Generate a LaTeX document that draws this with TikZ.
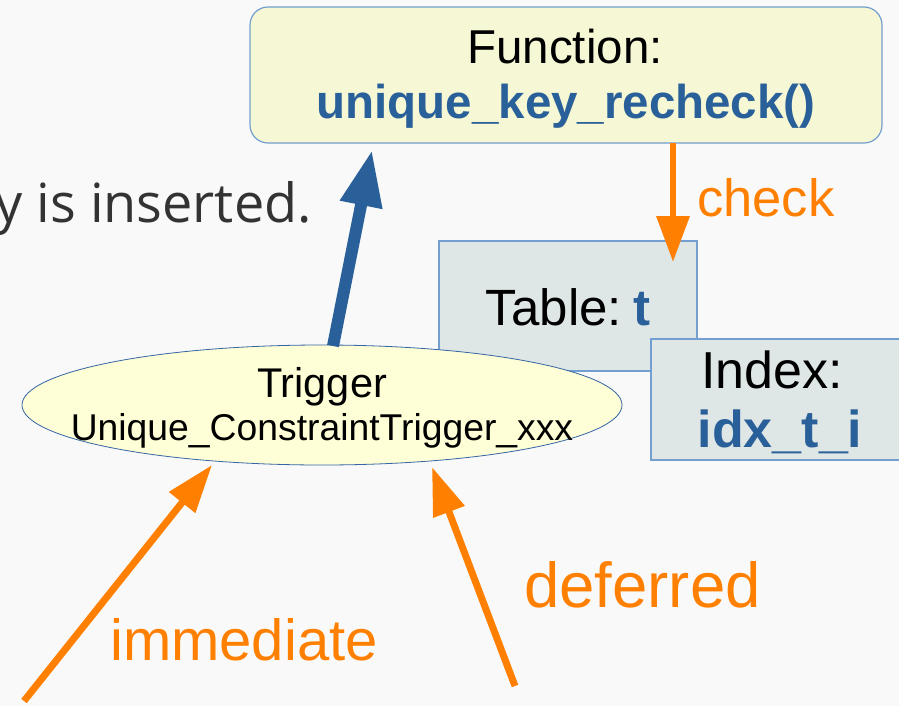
\documentclass[tikz,border=0pt]{standalone}
\usepackage{fontspec}
\setmainfont{Liberation Sans}
\newfontfamily\bodyfont{Open Sans}
\usetikzlibrary{arrows.meta,shapes.geometric,calc}

\definecolor{bgcol}{RGB}{249,249,249}
\definecolor{fnfill}{RGB}{246,247,212}
\definecolor{trigfill}{RGB}{255,255,215}
\definecolor{tblfill}{RGB}{222,230,230}
\definecolor{edgeblue}{RGB}{114,159,207}
\definecolor{rimblue}{RGB}{52,101,164}
\definecolor{deepblue}{RGB}{42,96,153}
\definecolor{orangeA}{RGB}{255,128,0}
\definecolor{bodygray}{RGB}{51,51,51}

\newcommand\setfs[1]{\fontsize{#1}{#1}\selectfont}

\begin{document}
\begin{tikzpicture}[x=1pt,y=-1pt,
  boxshape/.style={draw=edgeblue, line width=1.2pt, inner sep=0pt},
  fnbox/.style={boxshape, fill=fnfill, rounded corners=18pt,
    minimum width=632pt, minimum height=136pt},
  tblbox/.style={boxshape, fill=tblfill, minimum width=258pt, minimum height=130pt},
  trigshape/.style={ellipse, draw=rimblue, line width=0.8pt, fill=trigfill,
    inner sep=0pt, minimum width=600pt, minimum height=120pt},
  lbl/.style={anchor=base, inner sep=0pt},
  orangelbl/.style={lbl, anchor=base west, text=orangeA},
  bluearrow/.style={draw=deepblue, line width=12pt,
    -{Triangle[length=56pt,width=40pt]}},
  checkarrow/.style={draw=orangeA, line width=6.5pt,
    -{Triangle[length=46pt,width=32pt]}},
  firearrow/.style={draw=orangeA, line width=7pt,
    -{Triangle[length=48pt,width=32pt]}}]

% page background
\fill[bgcol] (0,0) rectangle (899,706);
\useasboundingbox (0,0) rectangle (899,706);

% slide body text, running in from the left
\node[lbl, anchor=base east, text=bodygray] (intro) at (312,222)
  {\bodyfont\setfs{54}y is inserted.};

% table, index, trigger and function shapes
\node[tblbox] (tbl) at (568,306) {};
\node[tblbox, minimum width=250pt, minimum height=121pt] (idx) at (776,399.5) {};
\node[trigshape] (trig) at (322,405) {};
\node[fnbox] (fn) at (566,75) {};

% their texts
\node[lbl] (fnA) at (565,64) {\setfs{47.5}Function:};
\node[lbl, text=deepblue] (fnB) at (566,118)
  {\setfs{47.5}\bfseries unique\_key\_recheck()};
\node[lbl] (tblA) at (568,325)
  {\setfs{51}Table:\hspace{0.22em}\textcolor{deepblue}{\bfseries t}};
\node[lbl] (idxA) at (772,388) {\setfs{52}Index:};
\node[lbl, text=deepblue] (idxB) at (780,447) {\setfs{52}\bfseries idx\_t\_i};
\node[lbl] (trA) at (322,397) {\setfs{41.5}Trigger};
\node[lbl] (trB) at (322,440) {\setfs{37.3}Unique\_ConstraintTrigger\_xxx};

% connector labels
\node[orangelbl] (lblCheck) at (697,216) {\setfs{52.5}check};
\node[orangelbl] (lblDef) at (524,607) {\setfs{63.5}deferred};
\node[orangelbl] (lblImm) at (110,660) {\setfs{58}immediate};

% loose tails of the firing arrows
\coordinate (immTail) at (24,701);
\coordinate (defTail) at (515,686);

% connectors
\draw[bluearrow] ($(trig.center)+(11,-59)$) -- ($(fn.center)+(-194,75)$);
\draw[checkarrow] ($(fn.center)+(107,68)$) -- ($(tbl.center)+(105,-44)$);
\draw[firearrow] (immTail) -- ($(trig.center)+(-110,60)$);
\draw[firearrow] (defTail) -- ($(trig.center)+(110,62)$);
\end{tikzpicture}
\end{document}
